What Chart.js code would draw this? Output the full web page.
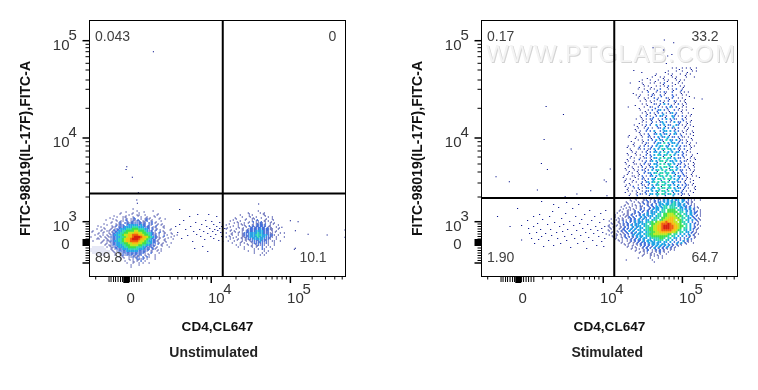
<!DOCTYPE html>
<html>
<head>
<meta charset="utf-8">
<title>IL-17F flow cytometry</title>
<script src="https://cdn.jsdelivr.net/npm/chart.js@4"></script>
<style>
  html, body { margin: 0; background: #fff; overflow: hidden; }
  canvas { position: absolute; top: 0; }
  #unstim { left: 0; }
  #stim { left: 392px; }
</style>
</head>
<body>
<canvas id="unstim" width="366" height="390"></canvas>
<canvas id="stim" width="366" height="390"></canvas>
<script>
// all values are in display channels of the biexponential axes (0 - 256)
const xAxisTitle = 'CD4,CL647';
const yAxisTitle = 'FITC-98019(IL-17F),FITC-A';

const xTickValues = [36, 121.5, 200.5];
const xTickLabels = ['0', '10', '10'];
const xTickExponents = ['', '4', '5'];
const yTickValues = [36.5, 54.8, 138.5, 235.8];
const yTickLabels = ['0', '10', '10', '10'];
const yTickExponents = ['', '3', '4', '5'];

const xMajorMarks = [121.5, 200.5];
const xDenseMarks = [19.5, 21.5, 24, 26, 28.5, 31, 33, 40, 42, 44.5, 47, 49.5, 52.2];
const xMinorMarks = [6.2, 61.2, 69.8, 80.5, 88.2, 95.5, 102.2, 107.8, 112.8, 117.2,
  146.2, 159.2, 168.8, 176.2, 182.2, 187.2, 192.2, 196.5, 222.2, 235.5, 244.8, 252.2];
const xZeroMark = 36.7;
const yMajorMarks = [235.8, 138.5, 54.8, 13.5];
const yMinorMarks = [232.2, 228.8, 224.8, 219.8, 213.2, 206.5, 196.5, 187.2, 168.2,
  134.8, 130.5, 125.5, 119.5, 112.5, 104.5, 93.5, 79.5,
  52.5, 50, 47.5, 45, 42.5, 40, 37.5, 28.5, 26, 23.5, 21, 18.5, 16];
const yZeroMark = 34;

const unstimCaption = 'Unstimulated';
const unstimGateX = 133;
const unstimGateY = 83;
const unstimCornerText = ['0.043', '0', '89.8', '10.1'];
const unstimCornerX = [5.5, 238.5, 5.5, 209.5];
const unstimCornerY = [239, 239, 18.5, 18.5];

const stimCaption = 'Stimulated';
const stimGateX = 132.5;
const stimGateY = 78.5;
const stimCornerText = ['0.17', '33.2', '1.90', '64.7'];
const stimCornerX = [5.5, 209.5, 5.5, 209.5];
const stimCornerY = [239, 239, 18.5, 18.5];

// density: . empty, 0 faint, 1 navy ... 9 red
const unstimMainStartX = -0.5;
const unstimMainTopY = 67.5;
const unstimMain = [
  "......................1.....................",
  "........................1.......1...........",
  "................1.....1..1..................",
  "....................1...11..1.....1.........",
  "..............1..11...1...1..1...1..........",
  "............1....1.1.112..1.121....1..1.....",
  "..............1.11.2.12122.112.1....1.......",
  "...........1...11.22122222212.21.1..........",
  ".........1....1122.2333332322.21..1.1.......",
  "......1.....11.2223333444333222.11...1......",
  "....1...1..1.122333444555444332.1.1......1..",
  "..1...1..11.12233445555665554322.1...1......",
  ".....1.1..1.2233445566677665544321.2..1..1..",
  "...1...1.1.12334456677888776554322.1...1....1",
  ".1....1.1.12223344567789998776543211.1...1..",
  "....11...1.12234456778999877654322.1..1...1.",
  "..1....1.11223344567788887665433221...1.....",
  "......1..1.12233445566777665544322.1.1...1..",
  "........1.112233344556666554433221..1..1....",
  "..000000.1.1122333445555444332221.1.....1...",
  ".00000000..1.122233344444333222.21..1.......",
  ".0000000000.1.1222233333322221.1..1.1.......",
  "..000000000..1.11222222222221..2...1........",
  "....00000....1..12122212122.1.1..1..........",
  "...............1.1..112121.2.21..1..........",
  "................1...1.1.2212.1...1..........",
  "..................1...1.1.2.1...............",
  "...................1..1..1.1..1.............",
  ".....................1...1..................",
  ".....................1......................"
];
const unstimMainFillStartX = 0.5;
const unstimMainFillTopY = 66.5;
const unstimMainFill = [
  "............................................",
  "..................1........1................",
  "...............1.....1............1.........",
  "............1.....1.....1.......1...........",
  "..........1.......1...2.....1.1....1........",
  "........1....1....2...1.2...2..1............",
  "...........1...2...1.2...2.1...2.1...........",
  ".......1.....1.2...2.2...2.2...2..1.1........",
  "....1......1.2.1.2.........2.2...2...1.......",
  ".......1...1...2.2...........2.2.1...1......",
  "......1...1.2.2................2.2.1....1....",
  ".1.....1...1.2.................2...2.1.......",
  "....1.....1.2..................2.1...1...1...",
  ".....1...1..2....................2...2....1..",
  "....1...1...2..................2.2.1...1.....",
  ".......1.1..2...................2.1..1.......",
  "......1...1.2.2...............2.2.1...1......",
  "........1...2.2.2...........2.2...2.1........",
  "..........1...2.1.2.........2.1.2...1........",
  "...........1.2.1.2.2.2...2.2.1.2.1...........",
  "...........1...1.2.1.2.2.2.1.2.1..1..........",
  "............1....1.2.1.2.1.2...1.............",
  "...............1...1.2.2.1...1...............",
  "................1.....1.1...1................",
  ".................1.....1...1.................",
  "....................1...1....................",
  "......................1......................"
];

const unstimSideStartX = 134.5;
const unstimSideTopY = 65.5;
const unstimSide = [
  ".................1............",
  "............1.....1.1.........",
  "........1.....1.....1.........",
  ".........1...1..1.....1.1.....",
  "......1....1..11.....1..1.....",
  "...1....1.....1.11..1.1.......",
  ".....1.1..1.1...1121...1.1....",
  ".1.....1.11...1.12221..1...1...",
  "...1...1...1.12122222.11..1....",
  ".1....1..1..1222223222211..1....",
  "...1.1...1.122223333222.1.1.....",
  ".1..1..1.1222333343322211...1.1.",
  "....1..1.12223334443332221.1....",
  ".1.1..1..1122333343332221.1...1.",
  "...1...1.1.1222333332221..1.....",
  "..1..1...1.1.1222232221.11..1...",
  "....1...1.1...122222121..1......",
  "......1.1...1.1.12121.1..1......",
  ".......1..1...1.1..2.1.1........",
  "..........1....1.1.21...1.......",
  "............1..1....1.1.........",
  "...............1...1.1..........",
  "..................1.1.........."
];
const unstimSideFillStartX = 135.5;
const unstimSideFillTopY = 64.5;
const unstimSideFill = [
  "...........................",
  "............1......1.......",
  "............1.......1......",
  ".....1........1...1........",
  "....1.....1.....2...1...1..",
  "......1.....1.2...2.1..1...",
  "..1.....1.....1.2.2.2...1..",
  "....1.....1.2.2.2.2.2.1....",
  ".1.....1.1...2.2.2.2.2.1...1",
  "...1.....1.2.2.2.2.2.2.1...",
  ".....1.1...2.2.2.2.2.1...1.",
  "...1.....1...2.2.2.2.1.1...",
  "..1......1.1.2.2.2.1...1...",
  "....1...1.1...1.2.1...1....",
  "......1...1.1...1.1.1......",
  "........1....1...1.........",
  "...........1...1...........",
  ".............1..1..........."
];

const unstimLoneX = [63.8, 37.2, 36.5, 42.8, 48.8, 47.2, 47.8, 168.8,
  86, 88, 90, 92, 94, 96, 98, 100, 101, 103, 104, 106, 107, 108, 110, 111, 112, 113, 114, 115,
  116, 117, 118, 119, 120, 121, 122, 123, 124, 124, 125, 126, 127, 127, 128, 129, 130, 130, 131,
  132, 132, 133, 90, 105, 118, 135,
  200.5, 208.2, 192, 205.5, 218.2, 237.2, 255, 255, 204.5, 205.5];
const unstimLoneY = [224.8, 109.8, 107, 99.2, 83.8, 76.5, 73.2, 72.5,
  50, 44, 52, 38, 56, 47, 41, 60, 50, 35, 45, 54, 42, 62, 47, 40, 52, 30, 45, 37,
  56, 50, 43, 62, 48, 40, 55, 45, 52, 38, 47, 42, 60, 50, 46, 36, 48, 54, 44,
  50, 40, 35, 67, 28, 25, 48,
  55.8, 54.8, 49.2, 45.8, 42.2, 41.5, 46.5, 39.2, 27.2, 28.2];

const stimPlumeStartX = 124.5;
const stimPlumeTopY = 208.5;
const stimPlume = [
  ".................................1.1..1.1.1..1",
  "...............................1...1..1....1.1",
  ".........................1.....1.1...1..1.1...",
  ".......................1...1.1...1.1....1...1.",
  "..................1...1...1..1.1...1.1.1......",
  "............1.....1...1.1..1.2...1..1.1.......",
  "...................1.1...1.1.1.2.1...1.1......",
  "................1..1..1.1..2...1.1.2..1.......",
  "..................1..2...1.1.21..2...1.1.1.....",
  "...............1.1...1.21..2.1...2.1..1.1......",
  "................1..1.1..2.1...21.2..1.1.....1..",
  ".................1..1.1.1..2.1.2..21.1.1.......",
  "..................1.1...21.2.3.2..1.2.1.1......",
  "...........1.......1..21..2.1.2.31.2..1.1......",
  ".................1...1.2..23.2.1..2.1.1.1......",
  "..................1.1.2.1.2.2.1.23.2..1..1.....",
  ".................1..2.1..2.32.2..32.1.2.1.1....",
  "...............1..1.1.22..1.2.3.2.21..2.1......",
  "..................1.1..2.1.23.2.1.3.22..1.1....",
  "..............1...1.2.2..3.2.3.22..32.1.1.1....",
  "................1..1.2.1..22.3.2.21.2..1.1......",
  "...............1.1..2.2.3..2.33.3.2.2.1.1..1....",
  ".................1.1.2..23.3.23.2.32.1..1.1.....",
  "...........1...1..1..21.2.3.23.3.22.2.11.1......",
  "................1.1..2.2.3.32.4.32.3.21.1..1.....",
  "..............1...1.21..2.33.4.3.33.2.2.1.1..1...",
  "...........1..1..1.2.2.2.3.34.32.3.3.2.21.1.1....",
  "............1...11.2.12.3.3.43.43.3.21.2..1......",
  ".............1.1..1.2.2.33.3.4.3.3.23.2.1.1......",
  "...........1...1.1..2.2.3.43.34.4.3.2.2.1..1......",
  "............1.1..1.12.1.33.4.4.43.3.22.1..1.1.....",
  "...........1..1...1.2.23.3.44.4.33.3.2.21.1......",
  "..........1...11.1.2.12.33.4.4.34.3.22.1.1..1.....",
  "...........1.1..1.2.1.23.3.4.44.43.3.2.2.1..1.....",
  "..........1...1.1.21.2.3.34.4.4.34.3.22.1.1.1.....",
  "...........1.1..1..2.23.34.44.44.33.2.2.1..1......",
  ".........1...11.1.2.1.23.3.44.4.4.3.32.21..1.1....",
  "..........1.1...1.21.2.33.44.4.44.3.3.2.1.1......",
  ".........1...1.1..2.23.34.4.44.4.33.22.1..1......",
  "..........1.1...1.21.2.3.34.44.43.3.3.2.21.1.....",
  "...........1..1.2.1.23.33.4.44.44.3.32.2.1..1.....",
  "...........1.1.1..1.22.3.34.44.4.3.33.2.1.1......",
  "............1..1.21.2.33.34.44.34.3.2.21.1......."
];
const stimPlumeFillStartX = 125.5;
const stimPlumeFillTopY = 207;
const stimPlumeFill = [
  "....................................1.....1....",
  ".............................1..........1......",
  "........................1.......1......1........",
  "....................1.......1.....1..............",
  "................1.......1.....1.....1...........",
  "..................1.........1.....1..............",
  "................1.....1.......1.......1.........",
  "....................1....2.......1...2..........",
  ".............1.........1.....1.......1..........",
  "................1.....1....2.....2.......1......",
  "...................1.....2.....1.......1........",
  "......................1.....1.....1....1........",
  "..............1.....1.....1.....2.....1.........",
  "................1.......2.....2.....1......1.....",
  "...................1.....2.....1.....1..........",
  "....................1...1...3.....2.......1......",
  ".................1.....2.....1...3.....1........",
  "..................1...1...1.....2.....2...1......",
  "................1.....1.....3.......2...1........",
  "...............1...1.....2...1...3.....1...1.....",
  "..............1.....2.......3.....2.....1........",
  "................1.......1...2.....3...1....1.....",
  "...........1.....1...2.....3...1.....2.....1.....",
  "..............1.......1...2...3.....1.....1......",
  "............1.....1.....2...1...3...2...1........",
  ".............1.....1.....3.....2...3.....1.......",
  "..........1.....2.....2...3...3.....2.....1......",
  "............1.......1...2...1...3...1...1........",
  "..........1...1.....1.....3...3...3...2......1...",
  "............1.....1...2.....1...1.....2...1......",
  "..........1.....2.....1...3...3...3.....1...1....",
  ".........1...1.....2.....2...1...3...2.....1.....",
  "...........1.....1...1...3.....3...1...2...1.....",
  ".........1...1.....1...2...3...1...3.....1.......",
  "...........1...1...2.....1...3...2...2.....1.....",
  "..........1.....1.....2...3...3...1...2...1......",
  "........1.....1...2.....1...3...3...2...1.....1..",
  ".........1...1.....1...3...2...1...3...1...1.....",
  "...........1.....1...2...3...3...2.....2...1.....",
  ".........1...2.....1...2...1...3...1...2....1....",
  "..........1.....1.....3...3...2...3...1.....1....",
  ".........1.....1...2.....1...3...1...2.....1.....",
  "...........1...2.....1...3...2...3...1...1......."
];

const stimBlobStartX = 122.5;
const stimBlobTopY = 78.5;
const stimBlob = [
  "..............1...1.1.21..2.2.33.2.33.3.2..1.1...",
  ".............1..1...12.1.2.21.3.3.3.23.32.2..1..1",
  "...........1...1.1.1..21.2.23.3.3.34.3.3.21.1....",
  "............1.1...1.2.1.2.2.33.33.44.33.3.2..1...",
  "..........1...1.1.21..2.2.3.3.44.444.33.32.2.1...",
  "...........1.1..1.1.2..2.233.344.4444.33.2.3.2.1.",
  "........1...11.1..2.1.2.2.33.44.5555.443.3.3.2..1",
  ".........1..1..1.2.2..2.233.344.55555.44.3.3.22.1",
  "..........1.1.21..2.2.2.33.44.556665.54.43.3.2..1",
  "........1..11.1.2.2.2.233.344.5566665.54.43.2.2.1",
  ".......1.1..12.2..2.22.3.344.556677665.44.33.2.1.",
  "......1..1.1.2.2.2.2.33.344.45667776.654.43.3.2.1",
  ".....1.1...2.2.2.233.3445.56677877766.544.3.2..1.",
  "....1...1.1.2.2.23.334.4556678889877665.44.3.2.1.",
  "..1...1.1.1.2.2.233.344.5667789998877655.4.3.2..1",
  "...1.1..1.2.2.2.2.33.445566778999887765.44.3.2.1.",
  "..1..1...12..2.2.33.3445566778888877654.43.3..1..",
  "....1..1.1.2..2.2.33.3445566777777665.44.33.2.1..",
  ".1....1.1.1.2.22.33.34455666666655.44.3.3.2..1.1.",
  "....1.1...1.1.2.2.33.344555555554.44.3.3.2.1.1...",
  "......1..1.2..1.2.2.33.34444554.44.33.2.2.1..1...",
  ".......1.1...1.2.22.2.33.34444.43.3.2.2.1.1......",
  ".........1...1.1.2.22.3.33.33.33.3.2.2..1.1......",
  "..........1.1...1.2.2.2.33.3.33.2.2.1.1..1.......",
  "............1.1...1.2.2.2.3.3.2.2.1..1...........",
  "..............1.1..1.2.2.3.2.2.2.1.1.............",
  "................1...1.2.1.2.2.1..1.1.............",
  "..................1.1...1.1.2.1.1................",
  "....................1..1.1..1..1.................",
  "...................1...1.1.1.1...................",
  ".................1.....1...1.1...................",
  "...........1............1........................",
  ".........................1......................."
];
const stimBlobFillStartX = 123.5;
const stimBlobFillTopY = 77.5;
const stimBlobFill = [
  "...............1...1...1...1.2.2...3...1...1....",
  ".............1.....1.2...2...2.2.3.2...3...1....",
  "...........1.....1.2.1...1.3...3.2.3.2...1.1....",
  "..........1....1.....2.2...2.3.3.3.3.2.2...1....",
  "........1...1.....1...1.2.3.3.........3.2.2...1.",
  ".........1....1...2...2.3.3.............3.2.1...",
  ".......1...1...2...2.2.3.................2.2..1.",
  "......1....1...2.2...3.3...................3.2..",
  ".....1...1.1.2...2.3.3.....................3..1.",
  ".....1....1.2.2...3.3.......................2...",
  "...1...1.1...2.2.3.3.........................2.1",
  "..1....1.2...2.3.3............................1.",
  "...1...1.2.2...3.3...........................2..",
  "..1...1..2.2.3.3..............................1.",
  "..1.1...1.2...3.3............................1..",
  "...1...1.2.2.3.3............................2.1.",
  "..1...1.2.2.3.3.............................1...",
  "...1.....1.2.2.3.3.........................2.1..",
  "..1...1.1.2...3.3.........................3.2...",
  "....1...1.2.2.2.3.3.......................2..1..",
  ".....1.....1.2.2.3.3.....................3.2....",
  ".......1...1.2.2.2.3.3.3...............3.2.1....",
  "........1...1.1.2.2.2.3.3.3.........3.3.2...1...",
  "..........1...1.1.2.2.2.3.3.3.3.3.2.2.1.........",
  "...........1...1...2.2.1.2.3.2.3.2.1............",
  ".............1...1.1.2...2.1.2.1.1..............",
  "...............1...1.2...1.2.1..................",
  ".................1...1.1...1....................",
  "...................1...1..1......................"
];

const stimLoneX = [64.5, 81.8, 62.5, 89.5, 59.8, 65.8, 14.5, 27.8, 55.8, 109, 83.5, 95.2, 125.2, 122.5,
  128.5, 124.5, 220.2, 182.5, 191.8, 181.8, 185.8, 184.5, 171.2, 160, 152, 190,
  28.5, 40, 40, 46, 47, 48, 50, 52, 52, 53, 55, 56, 57, 58, 59, 60, 61, 62, 64, 66, 67, 68, 69, 70,
  71, 72, 73, 75, 76, 77, 78, 79, 80, 81, 82, 83, 84, 85, 86, 88, 89, 90, 91, 92, 93, 94, 95, 96,
  97, 98, 99, 100, 101, 102, 103, 104, 105, 106, 107, 108, 109, 110, 111, 112, 113, 114, 115, 116,
  117, 118, 119, 120, 120, 121, 122, 122, 123, 123, 124, 60, 72, 85, 36, 16];
const stimLoneY = [170, 162, 137, 127.5, 113, 107, 99.8, 94.8, 86.5, 85.8, 79.8, 82.5, 80.8, 96.5,
  107.5, 94.8, 177.5, 236.5, 233.8, 226.5, 220.5, 213, 228.8, 204, 206, 222,
  50, 51, 36.5, 56, 48, 43, 38, 60, 50, 33, 44, 53, 37, 62, 47, 40, 57, 30, 43, 52, 36, 60, 47, 41,
  65, 31, 54, 44, 38, 69, 50, 33, 58, 45, 52, 40, 63, 36, 47, 55, 29, 42, 68, 51, 38, 60, 46, 33,
  72, 53, 41, 57, 48, 35, 62, 44, 28, 52, 39, 66, 47, 56, 36, 43, 60, 50, 31, 46,
  40, 54, 63, 35, 48, 44, 57, 30, 50, 38, 66, 75, 72, 74, 68, 60];

const watermark = 'WWW.PTGLAB.COM';

const levelColors = ['#e6e8f6', '#04108c', '#1c50d2', '#22a6e6', '#2fd6b4', '#3ee04e', '#bce822', '#f6c012', '#f0620e', '#d8200e'];
const levelRadius = [1.5, 0.8, 1, 1.3, 1.4, 1.6, 1.6, 1.6, 1.6, 1.6];
const textFont = '"Liberation Sans", Arial, sans-serif';

function addGrid(levels, rows, startX, topY, stepX, stepY) {
  rows.forEach((row, r) => {
    [...row].forEach((c, i) => {
      if (c !== '.') levels[+c].push({ x: startX + i * stepX, y: topY - r * stepY });
    });
  });
}

const panelDecor = {
  id: 'panelDecor',
  beforeDatasetsDraw(chart, args, opts) {
    if (!opts.watermark) return;
    const ctx = chart.ctx;
    ctx.save();
    ctx.font = '24px ' + textFont;
    ctx.letterSpacing = '1.4px';
    ctx.textAlign = 'left';
    ctx.textBaseline = 'middle';
    const x = chart.scales.x.getPixelForValue(4.5);
    const y = chart.scales.y.getPixelForValue(221);
    ctx.fillStyle = '#d4d4d4';
    ctx.fillText(opts.watermark, x + 1, y + 1);
    ctx.fillStyle = '#f4f4f4';
    ctx.fillText(opts.watermark, x, y);
    ctx.restore();
  },
  afterDraw(chart, args, opts) {
    const ctx = chart.ctx, area = chart.chartArea;
    const sx = chart.scales.x, sy = chart.scales.y;
    ctx.save();
    ctx.strokeStyle = '#000';
    ctx.lineWidth = 1;
    ctx.strokeRect(area.left, area.top, area.right - area.left, area.bottom - area.top);

    const markX = (v, len, w) => {
      ctx.lineWidth = w;
      ctx.beginPath();
      ctx.moveTo(sx.getPixelForValue(v), area.bottom);
      ctx.lineTo(sx.getPixelForValue(v), area.bottom + len);
      ctx.stroke();
    };
    const markY = (v, len, w) => {
      ctx.lineWidth = w;
      ctx.beginPath();
      ctx.moveTo(area.left, sy.getPixelForValue(v));
      ctx.lineTo(area.left - len, sy.getPixelForValue(v));
      ctx.stroke();
    };
    xMinorMarks.forEach(v => markX(v, 3, 1));
    xDenseMarks.forEach(v => markX(v, 5.5, 1));
    xMajorMarks.forEach(v => markX(v, 6.5, 1.5));
    markX(xZeroMark, 6.5, 6);
    yMinorMarks.forEach(v => markY(v, 4, 1));
    yMajorMarks.forEach(v => markY(v, 7, 1.5));
    markY(yZeroMark, 7, 7);

    // exponents of the tick labels
    ctx.fillStyle = '#333';
    ctx.font = '15px ' + textFont;
    ctx.textBaseline = 'middle';
    ctx.textAlign = 'left';
    xTickValues.forEach((v, i) => {
      ctx.fillText(xTickExponents[i], sx.getPixelForValue(v) + 12, area.bottom + 13.5);
    });
    yTickValues.forEach((v, i) => {
      ctx.fillText(yTickExponents[i], 68.5, sy.getPixelForValue(v) - 4.7);
    });

    // quadrant percentages
    ctx.fillStyle = '#404040';
    ctx.font = '14px ' + textFont;
    opts.cornerText.forEach((t, i) => {
      ctx.fillText(t, sx.getPixelForValue(opts.cornerX[i]), sy.getPixelForValue(opts.cornerY[i]));
    });

    ctx.fillStyle = '#222';
    ctx.font = 'bold 14px ' + textFont;
    ctx.textAlign = 'center';
    ctx.fillText(opts.caption, (area.left + area.right) / 2 + opts.captionShift, 353.5);
    ctx.restore();
  }
};

function makeChart(id, p) {
  const levels = levelColors.map(() => []);
  p.grids.forEach(g => addGrid(levels, g[0], g[1], g[2], g[3], g[4]));
  p.loneX.forEach((x, i) => levels[1].push({ x: x, y: p.loneY[i] }));

  const datasets = levels.map((pts, l) => ({
    data: pts,
    showLine: false,
    pointStyle: 'rect',
    pointRadius: levelRadius[l],
    pointBorderWidth: 0,
    pointBackgroundColor: levelColors[l],
    order: 20 - l
  }));
  [[{ x: p.gateX, y: 0 }, { x: p.gateX, y: 256 }], [{ x: 0, y: p.gateY }, { x: 255.5, y: p.gateY }]].forEach(line => {
    datasets.push({ data: line, showLine: true, pointRadius: 0, borderColor: '#000', borderWidth: 2, order: -1 });
  });

  return new Chart(document.getElementById(id), {
    type: 'scatter',
    data: { datasets: datasets },
    plugins: [panelDecor],
    options: {
      responsive: false,
      animation: false,
      events: [],
      layout: { autoPadding: false, padding: { left: 0, top: 20.5, right: 20.5, bottom: 53.5 } },
      plugins: {
        legend: { display: false },
        tooltip: { enabled: false },
        panelDecor: {
          cornerText: p.cornerText, cornerX: p.cornerX, cornerY: p.cornerY,
          caption: p.caption, captionShift: p.captionShift, watermark: p.watermark
        }
      },
      scales: {
        x: {
          type: 'linear', min: 0, max: 255.5,
          afterFit: s => { s.height = 60; s.paddingLeft = 0; s.paddingRight = 0; },
          afterBuildTicks: s => { s.ticks = xTickValues.map(v => ({ value: v })); },
          grid: { display: false, drawTicks: false },
          border: { display: false },
          ticks: {
            autoSkip: false, maxRotation: 0, padding: 13, labelOffset: 5,
            color: '#333', font: { family: textFont, size: 15 },
            callback: (v, i) => xTickLabels[i]
          },
          title: {
            display: true, text: xAxisTitle, color: '#111',
            font: { family: textFont, size: 13.6, weight: 'bold' },
            padding: { top: 0, bottom: 1 }
          }
        },
        y: {
          type: 'linear', min: 0, max: 256,
          afterFit: s => { s.width = 89.5; s.paddingTop = 0; s.paddingBottom = 0; },
          afterBuildTicks: s => { s.ticks = yTickValues.map(v => ({ value: v })); },
          grid: { display: false, drawTicks: false },
          border: { display: false },
          ticks: {
            autoSkip: false, maxRotation: 0, padding: 20, labelOffset: 4.7,
            color: '#333', font: { family: textFont, size: 15 },
            callback: (v, i) => yTickLabels[i]
          },
          title: {
            display: true, text: yAxisTitle, color: '#111',
            font: { family: textFont, size: 14, weight: 'bold' },
            padding: { top: 18, bottom: 0 }
          }
        }
      }
    }
  });
}

makeChart('unstim', {
  grids: [
    [unstimMain, unstimMainStartX, unstimMainTopY, 2, 2],
    [unstimMainFill, unstimMainFillStartX, unstimMainFillTopY, 2, 2],
    [unstimSide, unstimSideStartX, unstimSideTopY, 2, 2],
    [unstimSideFill, unstimSideFillStartX, unstimSideFillTopY, 2, 2]
  ],
  loneX: unstimLoneX, loneY: unstimLoneY,
  gateX: unstimGateX, gateY: unstimGateY,
  cornerText: unstimCornerText, cornerX: unstimCornerX, cornerY: unstimCornerY,
  caption: unstimCaption, captionShift: -3.8
});

makeChart('stim', {
  grids: [
    [stimPlume, stimPlumeStartX, stimPlumeTopY, 2, 3],
    [stimPlumeFill, stimPlumeFillStartX, stimPlumeFillTopY, 2, 3],
    [stimBlob, stimBlobStartX, stimBlobTopY, 2, 2],
    [stimBlobFill, stimBlobFillStartX, stimBlobFillTopY, 2, 2]
  ],
  loneX: stimLoneX, loneY: stimLoneY,
  gateX: stimGateX, gateY: stimGateY,
  cornerText: stimCornerText, cornerX: stimCornerX, cornerY: stimCornerY,
  caption: stimCaption, captionShift: -2.3, watermark: watermark
});
</script>
</body>
</html>
